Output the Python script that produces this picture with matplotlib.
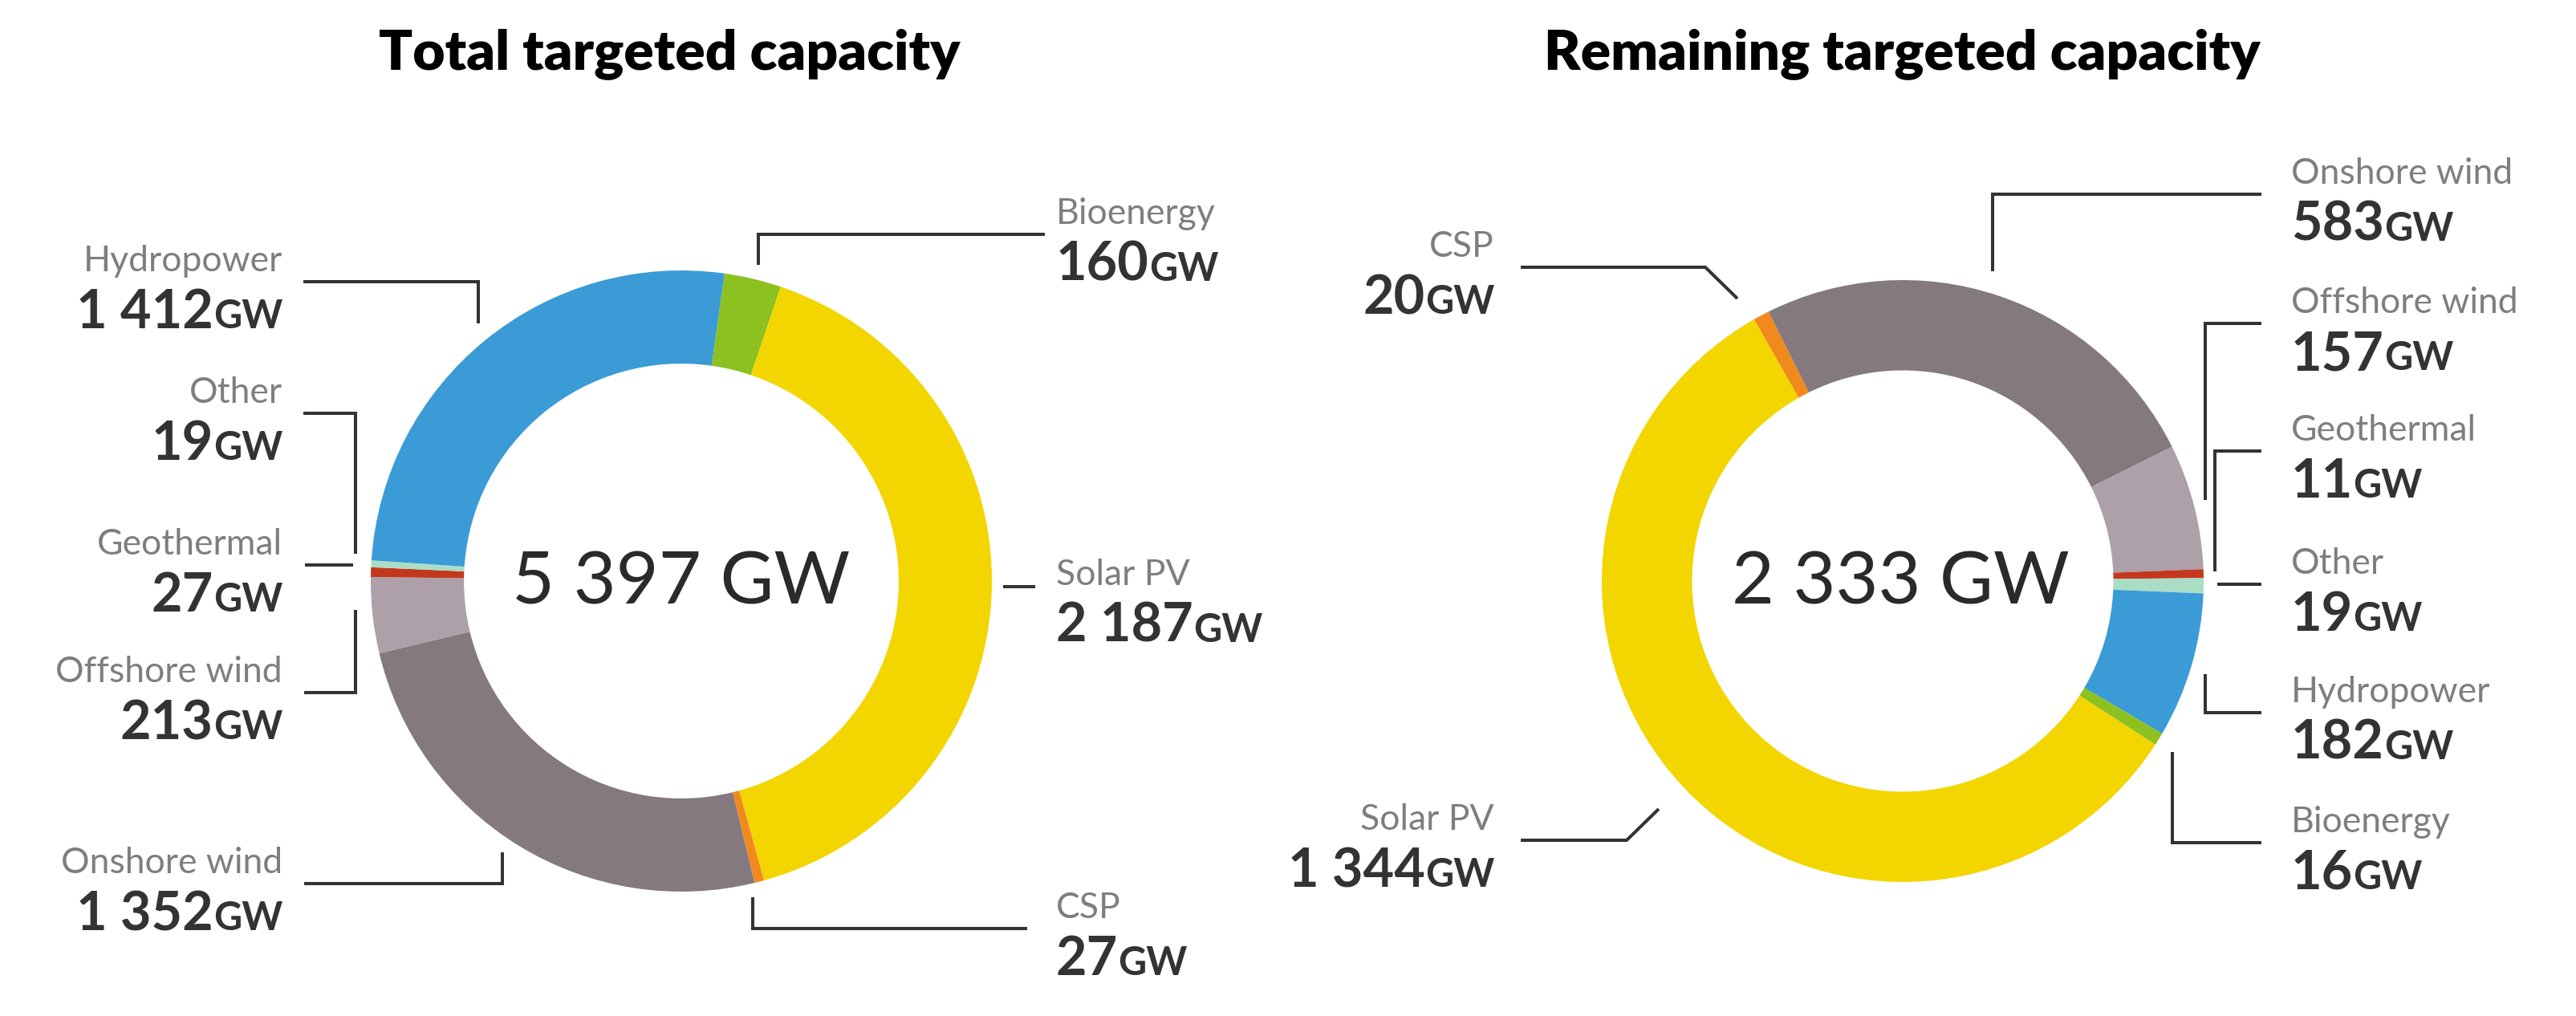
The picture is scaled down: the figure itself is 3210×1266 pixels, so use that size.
import matplotlib
matplotlib.use("Agg")
import matplotlib.pyplot as plt

plt.rcParams['font.family'] = ['Lato', 'DejaVu Sans']

# ── DATA ──────────────────────────────────────────────────────────────────────
# wedge order, clockwise from the start angle
TOTAL_CATS = ["Bioenergy", "Solar PV", "CSP", "Onshore wind", "Offshore wind",
              "Geothermal", "Other", "Hydropower"]
TOTAL_GW = [160, 2187, 27, 1352, 213, 27, 19, 1412]
TOTAL_LABEL = "5 397 GW"

REMAIN_CATS = ["Onshore wind", "Offshore wind", "Geothermal", "Other",
               "Hydropower", "Bioenergy", "Solar PV", "CSP"]
REMAIN_GW = [583, 157, 11, 19, 182, 16, 1344, 20]
REMAIN_LABEL = "2 333 GW"

TITLES = ["Total targeted capacity", "Remaining targeted capacity"]

COLORS = {
    "Bioenergy":     "#8CC11F",
    "Solar PV":      "#F3D500",
    "CSP":           "#F08A1D",
    "Onshore wind":  "#84797F",
    "Offshore wind": "#ADA0A8",
    "Geothermal":    "#C4371F",
    "Other":         "#A9DDC6",
    "Hydropower":    "#3A9BD6",
}

# ── LAYOUT (pixel coordinates, y measured from the top) ───────────────────────
W, H = 3210, 1266
LINE_C = "#333333"
NAME_C = "#7e7e7e"
VAL_C = "#333333"

fig = plt.figure(figsize=(W / 100, H / 100), dpi=100)
ax = fig.add_axes([0, 0, 1, 1])


def Y(y):
    return H - y


def donut(vals, cats, cx, cy, r, start):
    ax.pie(vals, colors=[COLORS[c] for c in cats], startangle=start,
           counterclock=False, radius=r, center=(cx, Y(cy)),
           wedgeprops=dict(width=r * 0.30, linewidth=0))


donut(TOTAL_GW, TOTAL_CATS, 849, 724, 387, 82)
donut(REMAIN_GW, REMAIN_CATS, 2371, 724, 375, 116.5)

ax.set_xlim(0, W)
ax.set_ylim(0, H)
ax.set_aspect('equal')
ax.axis('off')

ax.text(834, Y(67), TITLES[0], ha='center', va='center', fontsize=50,
        fontweight='heavy', color='black')
ax.text(2370, Y(67), TITLES[1], ha='center', va='center', fontsize=50,
        fontweight='heavy', color='black')

ax.text(849, Y(727), TOTAL_LABEL, ha='center', va='center', fontsize=66, color='#2a2a2a')
ax.text(2368, Y(727), REMAIN_LABEL, ha='center', va='center', fontsize=66, color='#2a2a2a')

renderer = fig.canvas.get_renderer()


def fmt_gw(v):
    return f"{v:,}".replace(",", " ")


def label(cat, val, x, y, side):
    # y = level of the leader line; name sits above it, value below
    ha = 'right' if side == 'left' else 'left'
    ax.text(x, Y(y - 13), cat, ha=ha, va='baseline', fontsize=32, color=NAME_C)
    num = fmt_gw(val)
    if side == 'left':
        t = ax.text(x, Y(y + 58), "GW", ha='right', va='baseline', fontsize=35,
                    fontweight='bold', color=VAL_C)
        w = t.get_window_extent(renderer).width
        ax.text(x - w, Y(y + 58), num, ha='right', va='baseline', fontsize=48,
                fontweight='bold', color=VAL_C)
    else:
        t = ax.text(x, Y(y + 58), num, ha='left', va='baseline', fontsize=48,
                    fontweight='bold', color=VAL_C)
        w = t.get_window_extent(renderer).width
        ax.text(x + w, Y(y + 58), "GW", ha='left', va='baseline', fontsize=35,
                fontweight='bold', color=VAL_C)


def leader(pts):
    ax.plot([p[0] for p in pts], [Y(p[1]) for p in pts], color=LINE_C,
            lw=2.9, solid_capstyle='butt', solid_joinstyle='miter')


tot = dict(zip(TOTAL_CATS, TOTAL_GW))
rem = dict(zip(REMAIN_CATS, REMAIN_GW))

# left chart labels
for cat, y in [("Hydropower", 351), ("Other", 515), ("Geothermal", 704),
               ("Offshore wind", 863), ("Onshore wind", 1101)]:
    label(cat, tot[cat], 352, y, 'left')
for cat, y in [("Bioenergy", 292), ("Solar PV", 742), ("CSP", 1157)]:
    label(cat, tot[cat], 1316, y, 'right')

leader([(378, 351), (596, 351), (596, 403)])
leader([(378, 515), (443, 515), (443, 690)])
leader([(380, 704), (440, 704)])
leader([(443, 760), (443, 863), (379, 863)])
leader([(379, 1101), (626, 1101), (626, 1062)])
leader([(945, 330), (945, 292), (1302, 292)])
leader([(1250, 731), (1290, 731)])
leader([(938, 1118), (938, 1157), (1280, 1157)])

# right chart labels
for cat, y in [("CSP", 333), ("Solar PV", 1047)]:
    label(cat, rem[cat], 1862, y, 'left')
for cat, y in [("Onshore wind", 242), ("Offshore wind", 403), ("Geothermal", 562),
               ("Other", 728), ("Hydropower", 888), ("Bioenergy", 1050)]:
    label(cat, rem[cat], 2855, y, 'right')

leader([(1895, 333), (2125, 333), (2165, 372)])
leader([(1895, 1047), (2027, 1047), (2067, 1008)])
leader([(2483, 338), (2483, 242), (2818, 242)])
leader([(2748, 623), (2748, 403), (2818, 403)])
leader([(2760, 712), (2760, 562), (2818, 562)])
leader([(2763, 728), (2818, 728)])
leader([(2748, 840), (2748, 888), (2818, 888)])
leader([(2707, 937), (2707, 1050), (2818, 1050)])

fig.savefig("out.png", dpi=100, facecolor='white')
